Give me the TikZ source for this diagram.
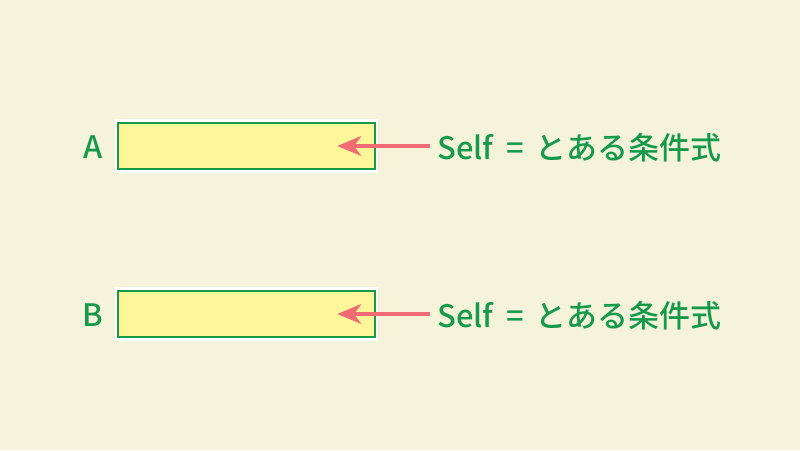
\documentclass[tikz,border=0pt]{standalone}
\usepackage{fontspec}
\setmainfont{Noto Sans CJK JP Medium}
\usepackage[outline]{contour}
\contourlength{1.3pt}
\usetikzlibrary{arrows.meta,positioning}
\definecolor{bgcream}{HTML}{F5F4DB}
\definecolor{boxfill}{HTML}{FFF69A}
\definecolor{boxgreen}{HTML}{17994A}
\definecolor{arrowred}{HTML}{F06B74}
\tikzset{
  cellbox/.style={draw=boxgreen, line width=1.8pt, fill=boxfill, inner sep=0pt,
    minimum width=6.42cm, minimum height=1.15cm,
    preaction={draw=white, line width=5pt}},
  lbl/.style={text=boxgreen, inner sep=0pt, font=\fontsize{22}{26}\selectfont},
  selfarrow/.style={draw=arrowred, line width=2.8pt, -{Stealth[length=17pt, width=14pt, inset=5pt]}}
}
\newcommand\condtext{\contour{white}{Self}\hspace{9pt}\contour{white}{=}\hspace{8.5pt}\contour{white}{とある条件式}}
\begin{document}
\begin{tikzpicture}[x=0.025cm,y=-0.025cm]
\fill[bgcream] (0,0) rectangle (800,450);
% rows
\node[cellbox] (boxA) at (246.5,146) {};
\node[cellbox] (boxB) at (246.5,314) {};
\node[lbl] (nameA) at (93,147) {\contour{white}{A}};
\node[lbl] (nameB) at (93,315) {\contour{white}{B}};
\node[lbl, anchor=west] (condA) at (437,148) {\condtext};
\node[lbl, anchor=west] (condB) at (437,316) {\condtext};
% arrows
\coordinate (tipA) at ([xshift=-0.975cm]boxA.east);
\coordinate (tipB) at ([xshift=-0.975cm]boxB.east);
\draw[selfarrow] ([xshift=-0.18cm]condA.west |- tipA) -- (tipA);
\draw[selfarrow] ([xshift=-0.18cm]condB.west |- tipB) -- (tipB);
\end{tikzpicture}
\end{document}
